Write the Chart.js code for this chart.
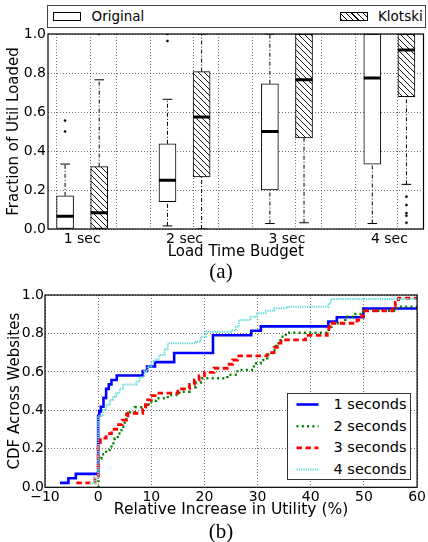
<!DOCTYPE html>
<html><head><meta charset="utf-8">
<script src="https://cdn.jsdelivr.net/npm/chart.js@4"></script>
<style>
body{margin:0;background:#fff;width:428px;height:542px;position:relative;overflow:hidden;font-family:"DejaVu Sans",sans-serif;color:#000}
.abs{position:absolute}
.cap{font-family:"Liberation Serif","Times New Roman",serif;font-size:21px;width:60px;text-align:center;line-height:22px}
.lg{font-size:14.5px;line-height:21.6px;white-space:nowrap}
</style></head><body>
<div class="abs" style="left:0;top:0;width:428px;height:262px"><canvas id="c1"></canvas></div>
<div class="abs" style="left:47px;top:5px;width:377px;height:21px;border:1.5px solid #444;background:#fff">
  <div class="abs" style="left:5px;top:6px;width:26px;height:7px;border:1px solid #000;background:#fff"></div>
  <div class="abs" style="left:43.5px;top:0;line-height:21px;font-size:13.5px;white-space:nowrap">Original</div>
  <div class="abs" style="left:292px;top:6px;width:26px;height:7px;border:1px solid #000;background:repeating-linear-gradient(45deg,#000 0 0.9px,#fff 0.9px 4px)"></div>
  <div class="abs" style="left:330px;top:0;line-height:21px;font-size:13.5px;white-space:nowrap">Klotski</div>
</div>
<div class="abs cap" style="left:191px;top:260px">(a)</div>
<div class="abs" style="left:0;top:282px;width:428px;height:240px"><canvas id="c2"></canvas></div>
<div class="abs" style="left:287px;top:393px;width:122px;height:85px;border:1.5px solid #333;background:#fff">
  <svg class="abs" style="left:0;top:0" width="122" height="85">
    <line x1="8.5" y1="10.5" x2="30.5" y2="10.5" stroke="#0000ff" stroke-width="2.6"/>
    <line x1="8.5" y1="32.2" x2="30.5" y2="32.2" stroke="#008000" stroke-width="2.4" stroke-dasharray="2 3.3"/>
    <line x1="8.5" y1="53.8" x2="30.5" y2="53.8" stroke="#ff0000" stroke-width="2.8" stroke-dasharray="5.5 3.5"/>
    <line x1="8.5" y1="75.5" x2="30.5" y2="75.5" stroke="#6fdcdc" stroke-width="2" stroke-dasharray="1.4 0.9"/>
  </svg>
  <div class="abs lg" style="left:45.5px;top:0px">1 seconds</div>
  <div class="abs lg" style="left:45.5px;top:21.6px">2 seconds</div>
  <div class="abs lg" style="left:45.5px;top:43.2px">3 seconds</div>
  <div class="abs lg" style="left:45.5px;top:64.8px">4 seconds</div>
</div>
<div class="abs cap" style="left:191px;top:520px">(b)</div>
<script>
// ---------- Panel (a): box plots ----------
const categories = ['1 sec', '2 sec', '3 sec', '4 sec'];
const origQ1  = [0.000, 0.140, 0.200, 0.333];
const origMed = [0.065, 0.250, 0.500, 0.775];
const origQ3  = [0.170, 0.437, 0.745, 1.000];
const origLo  = [0.000, 0.016, 0.028, 0.028];
const origHi  = [0.333, 0.665, 1.000, 1.000];
const origOut = [[0.500, 0.556], [1.000, 0.964], [], []];
const kloQ1  = [0.000, 0.267, 0.467, 0.678];
const kloMed = [0.083, 0.575, 0.765, 0.918];
const kloQ3  = [0.320, 0.807, 1.000, 1.000];
const kloLo  = [0.000, 0.000, 0.032, 0.229];
const kloHi  = [0.765, 1.000, 1.000, 1.000];
const kloOut = [[1.000], [], [], [0.166, 0.123, 0.081, 0.068, 0.032]];

// ---------- Panel (b): CDF step curves ----------
const xTicksB = [-10, 0, 10, 20, 30, 40, 50, 60];
const sec1X = [-7.2,-5.6,-4.2,0,0.2,0.5,1.0,1.5,2.0,2.5,3.5,8.4,9.2,10.7,14.3,21.6,28.8,30.6,43.3,44.9,49.9,60];
const sec1Y = [0.023,0.047,0.070,0.372,0.395,0.419,0.465,0.512,0.535,0.558,0.581,0.605,0.628,0.651,0.698,0.791,0.814,0.837,0.862,0.884,0.930,0.930];
const sec2X = [0,0.05,0.6,1.5,2.5,3.1,3.7,4.4,5.0,5.3,6.9,9.0,9.5,10.0,10.9,13.1,15.3,17.2,18.4,19.6,24.3,26.2,29.3,30.6,31.8,32.8,33.4,34.3,35.3,43.4,43.9,46.5,48.4,49.9,56.2,60];
const sec2Y = [0.000,0.150,0.172,0.194,0.229,0.255,0.280,0.315,0.350,0.390,0.416,0.420,0.440,0.450,0.463,0.480,0.497,0.520,0.545,0.567,0.585,0.610,0.645,0.662,0.690,0.714,0.749,0.783,0.804,0.835,0.853,0.887,0.901,0.918,0.939,0.939];
const sec3X = [-4.1,-0.6,0,0.4,1.5,2.5,3.5,4.5,5.3,5.6,8.4,8.9,9.3,10.0,11.0,15.0,15.7,17.2,18.1,19.0,20.0,21.8,24.3,25.3,26.2,31.8,33.1,33.7,34.4,39.0,43.1,43.4,43.7,48.7,49.6,49.9,55.4,55.9,56.5,60];
const sec3Y = [0.023,0.047,0.233,0.256,0.279,0.302,0.326,0.349,0.372,0.385,0.408,0.430,0.455,0.477,0.490,0.500,0.512,0.535,0.558,0.580,0.598,0.619,0.640,0.662,0.683,0.700,0.728,0.750,0.767,0.790,0.810,0.835,0.853,0.870,0.892,0.917,0.940,0.962,0.983,0.983];
const sec4X = [-1.6,-0.6,0,0.9,1.55,2.2,2.8,3.4,4.0,4.7,7.2,7.8,8.7,9.3,10.0,10.6,11.5,12.5,13.1,18.4,19.3,20.3,25.0,25.9,26.5,28.7,29.9,31.5,33.1,35.6,43.3,43.8,60];
const sec4Y = [0.023,0.047,0.372,0.402,0.428,0.454,0.471,0.489,0.512,0.535,0.549,0.572,0.605,0.628,0.651,0.665,0.688,0.720,0.749,0.757,0.783,0.809,0.815,0.835,0.870,0.887,0.905,0.918,0.931,0.939,0.956,0.979,0.979];

Chart.defaults.font.family = '"DejaVu Sans", sans-serif';
Chart.defaults.font.size = 14;
Chart.defaults.color = '#000';

const GRID = 'rgba(0,0,0,0.55)';
const frame = {
  id: 'frame',
  afterDraw(c) {
    const a = c.chartArea, g = c.ctx;
    g.save(); g.strokeStyle = '#000'; g.lineWidth = 1.2;
    g.strokeRect(a.left, a.top, a.right - a.left, a.bottom - a.top);
    g.restore();
  }
};

function hatchPattern() {
  const s = 6, c = document.createElement('canvas');
  c.width = s; c.height = s;
  const g = c.getContext('2d');
  g.fillStyle = '#fff'; g.fillRect(0, 0, s, s);
  g.strokeStyle = '#000'; g.lineWidth = 0.9;
  g.beginPath();
  g.moveTo(-1, -1); g.lineTo(s + 1, s + 1);
  g.moveTo(-1, s - 1); g.lineTo(1, s + 1);
  g.moveTo(s - 1, -1); g.lineTo(s + 1, 1);
  g.stroke();
  return g.createPattern(c, 'repeat');
}

const posOrig = categories.map((_, i) => 3 * i + 1);
const posKlo = categories.map((_, i) => 3 * i + 2);

function boxes(xs, q1, q3) { return xs.map((x, i) => ({ x, y: [q1[i], q3[i]] })); }
function whiskers(xs, q1, q3, lo, hi) {
  const p = [];
  xs.forEach((x, i) => {
    if (hi[i] > q3[i]) p.push({ x, y: q3[i] }, { x, y: hi[i] }, { x, y: null });
    if (lo[i] < q1[i]) p.push({ x, y: lo[i] }, { x, y: q1[i] }, { x, y: null });
  });
  return p;
}
function hsegs(xs, vals, half) {
  const p = [];
  xs.forEach((x, i) => p.push({ x: x - half, y: vals[i] }, { x: x + half, y: vals[i] }, { x, y: null }));
  return p;
}
function fliers(xs, outs) {
  const p = [];
  xs.forEach((x, i) => outs[i].forEach(v => p.push({ x, y: v })));
  return p;
}

const lineSeg = (data, width, dash, order) => ({
  type: 'line', data, borderColor: '#000', borderWidth: width, borderDash: dash,
  pointRadius: 0, spanGaps: false, order, fill: false
});

new Chart(document.getElementById('c1'), {
  type: 'bar',
  data: {
    datasets: [
      { type: 'bar', label: 'Original', data: boxes(posOrig, origQ1, origQ3), backgroundColor: '#fff',
        borderColor: '#000', borderWidth: 1, borderSkipped: false, grouped: false, barThickness: 17, order: 10 },
      { type: 'bar', label: 'Klotski', data: boxes(posKlo, kloQ1, kloQ3), backgroundColor: hatchPattern(),
        borderColor: '#000', borderWidth: 1, borderSkipped: false, grouped: false, barThickness: 17, order: 10 },
      lineSeg(whiskers(posOrig, origQ1, origQ3, origLo, origHi), 1, [4, 2, 1, 2], 5),
      lineSeg(whiskers(posKlo, kloQ1, kloQ3, kloLo, kloHi), 1, [4, 2, 1, 2], 5),
      lineSeg(hsegs(posOrig, origHi, 0.14).concat(hsegs(posOrig, origLo, 0.14)), 1, [], 4),
      lineSeg(hsegs(posKlo, kloHi, 0.14).concat(hsegs(posKlo, kloLo, 0.14)), 1, [], 4),
      lineSeg(hsegs(posOrig, origMed, 0.25), 3, [], 2),
      lineSeg(hsegs(posKlo, kloMed, 0.25), 3, [], 2),
      { type: 'scatter', data: fliers(posOrig, origOut).concat(fliers(posKlo, kloOut)),
        pointStyle: 'circle', pointRadius: 1.1, backgroundColor: '#000', borderColor: '#000', borderWidth: 0.5, order: 1 }
    ]
  },
  options: {
    responsive: true, maintainAspectRatio: false, animation: false,
    layout: { padding: { top: 34, right: 1, left: 0, bottom: 0 } },
    plugins: { legend: { display: false }, tooltip: { enabled: false } },
    scales: {
      x: {
        type: 'linear', min: 0.5, max: 11.5, offset: false,
        afterBuildTicks: s => {
          const t = [];
          for (let v = 1; v <= 11; v++) t.push({ value: v });
          categories.forEach((c, i) => t.push({ value: 3 * i + 1.5 }));
          t.sort((a, b) => a.value - b.value);
          s.ticks = t;
        },
        afterFit: s => { s.height = 33; },
        grid: { color: c => (c.tick && Number.isInteger(c.tick.value)) ? GRID : 'rgba(0,0,0,0)', lineWidth: 1, drawTicks: false },
        border: { display: false, dash: [1, 2] },
        ticks: { autoSkip: false, maxRotation: 0, padding: 2, font: { size: 14 },
          callback: v => (Math.abs(v % 3 - 1.5) < 1e-6) ? categories[(v - 1.5) / 3] : '' },
        title: { display: true, text: 'Load Time Budget', font: { size: 15, lineHeight: 1.2 }, padding: { top: 0, bottom: 1 } }
      },
      y: {
        min: 0, max: 1,
        afterFit: s => { s.width = 48; },
        grid: { color: GRID, lineWidth: 1, drawTicks: false },
        border: { display: false, dash: [1, 2] },
        ticks: { stepSize: 0.2, padding: 2, font: { size: 14 }, callback: v => v.toFixed(1) },
        title: { display: true, text: 'Fraction of Util Loaded', font: { size: 15, lineHeight: 1.2 }, padding: { top: 5, bottom: 0 } }
      }
    }
  },
  plugins: [frame]
});

const pts = (xs, ys) => xs.map((x, i) => ({ x, y: ys[i] }));
const cdfLine = (label, xs, ys, color, width, dash) => ({
  label, data: pts(xs, ys), borderColor: color, backgroundColor: color, borderWidth: width,
  borderDash: dash, stepped: true, pointRadius: 0, fill: false, borderCapStyle: 'butt'
});

new Chart(document.getElementById('c2'), {
  type: 'line',
  data: {
    datasets: [
      cdfLine('4 seconds', sec4X, sec4Y, '#6fdcdc', 2, [1.4, 0.9]),
      cdfLine('3 seconds', sec3X, sec3Y, '#ff0000', 2.8, [5.5, 3.5]),
      cdfLine('2 seconds', sec2X, sec2Y, '#008000', 2.4, [2, 3.3]),
      cdfLine('1 seconds', sec1X, sec1Y, '#0000ff', 2.6, [])
    ]
  },
  options: {
    responsive: true, maintainAspectRatio: false, animation: false,
    layout: { padding: { top: 13, right: 9, left: 0, bottom: 0 } },
    plugins: { legend: { display: false }, tooltip: { enabled: false } },
    scales: {
      x: {
        type: 'linear', min: -10, max: 60,
        afterBuildTicks: s => { s.ticks = xTicksB.map(v => ({ value: v })); },
        afterFit: s => { s.height = 34.7; },
        grid: { color: GRID, lineWidth: 1, drawTicks: false },
        border: { display: false, dash: [1, 2] },
        ticks: { autoSkip: false, maxRotation: 0, padding: 2, font: { size: 14 },
          callback: v => v < 0 ? '\u2212' + Math.abs(v) : String(v) },
        title: { display: true, text: 'Relative Increase in Utility (%)', font: { size: 15.5, lineHeight: 1.2 }, padding: { top: 0, bottom: 3 } }
      },
      y: {
        min: 0, max: 1,
        afterFit: s => { s.width = 45; },
        grid: { color: GRID, lineWidth: 1, drawTicks: false },
        border: { display: false, dash: [1, 2] },
        ticks: { stepSize: 0.2, padding: 1, font: { size: 14 }, callback: v => v.toFixed(1) },
        title: { display: true, text: 'CDF Across Websites', font: { size: 15, lineHeight: 1.2 }, padding: { top: 6, bottom: 0 } }
      }
    }
  },
  plugins: [frame]
});
</script>
</body></html>
